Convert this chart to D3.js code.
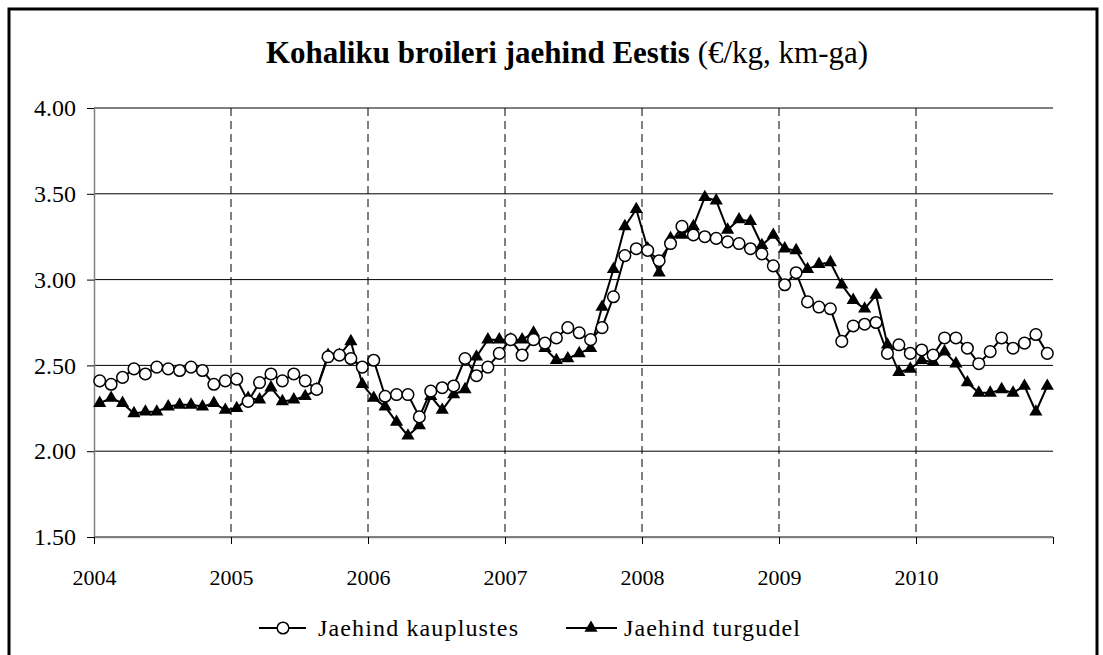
<!DOCTYPE html>
<html>
<head>
<meta charset="utf-8">
<script src="https://cdn.jsdelivr.net/npm/d3@7"></script>
<style>
  body { margin: 0; background: #fff; }
  svg text { font-family: "Liberation Serif", "Times New Roman", serif; fill: #000; }
</style>
</head>
<body>
<svg id="chart" width="1103" height="655"></svg>
<script>
// monthly retail price of local broiler, €/kg incl. VAT
const years = ["2004", "2005", "2006", "2007", "2008", "2009", "2010"];
const monthNames = ["01", "02", "03", "04", "05", "06", "07", "08", "09", "10", "11", "12"];

// Jaehind kauplustes (circles)
const shops = [
  2.41, 2.39, 2.43, 2.48, 2.45, 2.49, 2.48, 2.47, 2.49, 2.47, 2.39, 2.41,
  2.42, 2.29, 2.40, 2.45, 2.41, 2.45, 2.41, 2.36, 2.55, 2.56, 2.54, 2.49,
  2.53, 2.32, 2.33, 2.33, 2.20, 2.35, 2.37, 2.38, 2.54, 2.44, 2.49, 2.57,
  2.65, 2.56, 2.65, 2.63, 2.66, 2.72, 2.69, 2.65, 2.72, 2.90, 3.14, 3.18,
  3.17, 3.11, 3.21, 3.31, 3.26, 3.25, 3.24, 3.22, 3.21, 3.18, 3.15, 3.08,
  2.97, 3.04, 2.87, 2.84, 2.83, 2.64, 2.73, 2.74, 2.75, 2.57, 2.62, 2.57,
  2.59, 2.56, 2.66, 2.66, 2.60, 2.51, 2.58, 2.66, 2.60, 2.63, 2.68, 2.57
];

// Jaehind turgudel (triangles)
const markets = [
  2.28, 2.31, 2.28, 2.22, 2.23, 2.23, 2.26, 2.27, 2.27, 2.26, 2.28, 2.24,
  2.25, 2.31, 2.30, 2.37, 2.29, 2.30, 2.32, 2.36, 2.56, 2.56, 2.64, 2.39,
  2.31, 2.26, 2.17, 2.09, 2.15, 2.32, 2.24, 2.33, 2.36, 2.55, 2.65, 2.65,
  2.65, 2.65, 2.69, 2.60, 2.53, 2.54, 2.57, 2.60, 2.84, 3.06, 3.31, 3.41,
  3.18, 3.04, 3.24, 3.26, 3.31, 3.48, 3.46, 3.29, 3.35, 3.34, 3.20, 3.26,
  3.18, 3.17, 3.06, 3.09, 3.10, 2.97, 2.88, 2.83, 2.91, 2.62, 2.46, 2.48,
  2.53, 2.52, 2.58, 2.51, 2.40, 2.34, 2.34, 2.36, 2.34, 2.38, 2.23, 2.38
];

const yTicks = [1.5, 2.0, 2.5, 3.0, 3.5, 4.0];
const seriesNames = ["Jaehind kauplustes", "Jaehind turgudel"];

const months = years.flatMap(y => monthNames.map(m => y + "-" + m));

const plotLeft = 94, plotRight = 1053, plotTop = 108, plotBottom = 537;

const svg = d3.select("#chart");

// outer chart frame
svg.append("rect")
    .attr("x", 9).attr("y", 9)
    .attr("width", 1088).attr("height", 700)
    .attr("fill", "none")
    .attr("stroke", "#000")
    .attr("stroke-width", 3);

const x = d3.scaleLinear().domain([0, months.length]).range([plotLeft, plotRight]);
const y = d3.scaleLinear().domain([1.5, 4]).range([plotBottom, plotTop]);

// horizontal gridlines
svg.append("g")
  .selectAll("line")
  .data(yTicks)
  .enter().append("line")
    .attr("x1", plotLeft).attr("x2", plotRight)
    .attr("y1", d => y(d)).attr("y2", d => y(d))
    .attr("stroke", "#000")
    .attr("stroke-width", 1);

// vertical dashed year lines
const yearStarts = years.slice(1).map(yr => months.indexOf(yr + "-01"));
svg.append("g")
  .selectAll("line")
  .data(yearStarts)
  .enter().append("line")
    .attr("x1", d => x(d)).attr("x2", d => x(d))
    .attr("y1", plotTop).attr("y2", plotBottom)
    .attr("stroke", "#000")
    .attr("stroke-width", 1)
    .attr("stroke-dasharray", "8,5");

// y axis
const yAxis = svg.append("g")
    .attr("transform", `translate(${plotLeft},0)`)
    .call(d3.axisLeft(y).tickValues(yTicks).tickFormat(d3.format(".2f")).tickSize(7).tickSizeOuter(0));
yAxis.select(".domain").attr("stroke", "#808080").attr("stroke-width", 1.5);
yAxis.selectAll(".tick line").attr("stroke", "#000");
yAxis.selectAll(".tick text")
    .attr("x", -18)
    .style("font-size", "24px")
    .style("font-family", "Liberation Serif");

// x axis
const xAxis = svg.append("g")
    .attr("transform", `translate(0,${plotBottom})`)
    .call(d3.axisBottom(x)
      .tickValues(d3.range(0, months.length + 1, 12))
      .tickFormat(i => years[i / 12] || "")
      .tickSize(7).tickSizeOuter(0));
xAxis.select(".domain").attr("stroke", "#808080").attr("stroke-width", 1.5);
xAxis.selectAll(".tick line").attr("stroke", "#000");
xAxis.selectAll(".tick text")
    .attr("y", 32)
    .style("font-size", "22px")
    .style("font-family", "Liberation Serif");

// series lines
const line = d3.line()
    .x((d, i) => x(i + 0.5))
    .y(d => y(d));

svg.append("path")
    .datum(shops)
    .attr("d", line)
    .attr("fill", "none")
    .attr("stroke", "#000")
    .attr("stroke-width", 2);

svg.append("path")
    .datum(markets)
    .attr("d", line)
    .attr("fill", "none")
    .attr("stroke", "#000")
    .attr("stroke-width", 2);

const tri = d3.symbol().type(d3.symbolTriangle).size(75);

svg.append("g")
  .selectAll("path")
  .data(markets)
  .enter().append("path")
    .attr("d", tri)
    .attr("transform", (d, i) => `translate(${x(i + 0.5)},${y(d)})`)
    .attr("fill", "#000");

svg.append("g")
  .selectAll("circle")
  .data(shops)
  .enter().append("circle")
    .attr("cx", (d, i) => x(i + 0.5))
    .attr("cy", d => y(d))
    .attr("r", 5.8)
    .attr("fill", "#fff")
    .attr("stroke", "#000")
    .attr("stroke-width", 1.5);

// title
const title = svg.append("text")
    .attr("x", 567)
    .attr("y", 63)
    .attr("text-anchor", "middle")
    .style("font-size", "31px");
title.append("tspan").style("font-weight", "bold").text("Kohaliku broileri jaehind Eestis");
title.append("tspan").text(" (€/kg, km-ga)");

// legend
const legend = svg.append("g").attr("transform", "translate(0,628)");

legend.append("line").attr("x1", 259).attr("x2", 306).attr("y1", 0).attr("y2", 0)
    .attr("stroke", "#000").attr("stroke-width", 2);
legend.append("circle").attr("cx", 283).attr("cy", 0).attr("r", 5.8)
    .attr("fill", "#fff").attr("stroke", "#000").attr("stroke-width", 1.5);
legend.append("text").attr("x", 318).attr("y", 8)
    .attr("textLength", 200).attr("lengthAdjust", "spacing")
    .style("font-size", "24px")
    .text(seriesNames[0]);

legend.append("line").attr("x1", 566).attr("x2", 617).attr("y1", 0).attr("y2", 0)
    .attr("stroke", "#000").attr("stroke-width", 2);
legend.append("path").attr("d", tri).attr("transform", "translate(591,0)").attr("fill", "#000");
legend.append("text").attr("x", 624).attr("y", 8)
    .attr("textLength", 176).attr("lengthAdjust", "spacing")
    .style("font-size", "24px")
    .text(seriesNames[1]);
</script>
</body>
</html>
